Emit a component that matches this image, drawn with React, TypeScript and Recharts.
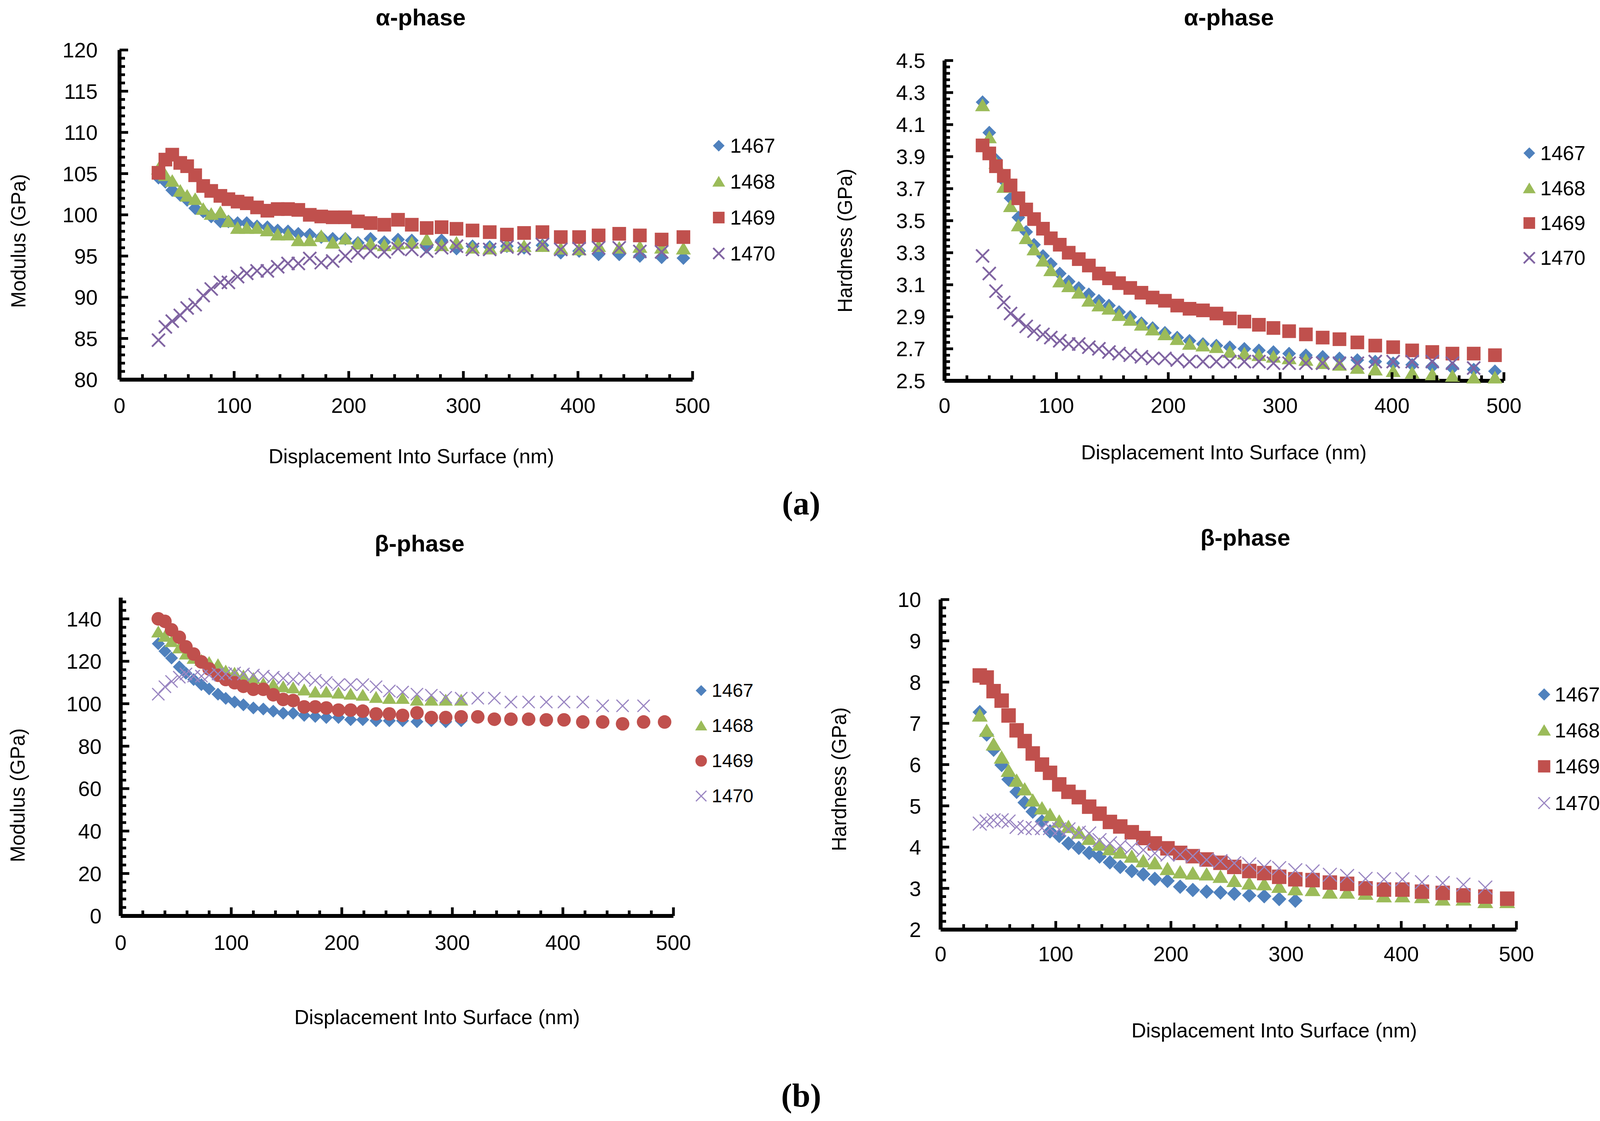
import React from "react";
import { ScatterChart, Scatter, XAxis, YAxis } from "recharts";

// indentation depth grid (nm) shared by all four panels
const depth = [34, 40, 46, 53, 59, 66, 73, 80, 88, 95, 103, 111, 120, 129, 138, 147, 156, 166, 176, 186, 197, 208, 219, 231, 243, 255, 268, 281, 294, 308, 323, 338, 353, 369, 385, 401, 418, 436, 454, 473, 492];

// α-phase modulus (GPa)
const alphaMod1467 = [104.5, 104.0, 103.0, 102.4, 101.8, 100.8, 100.4, 99.8, 99.2, 99.2, 99.0, 99.0, 98.6, 98.5, 98.1, 98.0, 97.7, 97.6, 97.3, 97.1, 97.1, 96.6, 97.1, 96.7, 97.0, 96.9, 96.1, 96.9, 95.9, 96.2, 96.1, 96.2, 96.0, 96.3, 95.4, 95.6, 95.2, 95.2, 95.0, 94.85, 94.75];
const alphaMod1468 = [105.6, 104.8, 104.1, 102.9, 102.3, 101.9, 100.7, 100.1, 100.3, 99.2, 98.4, 98.4, 98.4, 98.1, 97.6, 97.6, 96.9, 96.9, 97.4, 96.6, 97.1, 96.5, 96.5, 96.3, 96.5, 96.6, 97.0, 96.3, 96.6, 96.0, 95.9, 96.2, 96.2, 96.2, 95.9, 95.8, 96.2, 96.0, 96.1, 96.0, 95.9];
const alphaMod1469 = [105.1, 106.7, 107.3, 106.3, 105.9, 104.8, 103.5, 102.9, 102.3, 101.9, 101.6, 101.4, 100.9, 100.5, 100.7, 100.7, 100.6, 100.0, 99.8, 99.7, 99.7, 99.2, 99.0, 98.8, 99.4, 98.8, 98.4, 98.5, 98.3, 98.1, 97.9, 97.6, 97.8, 97.9, 97.3, 97.3, 97.5, 97.7, 97.5, 97.0, 97.3];
const alphaMod1470 = [84.8, 86.4, 87.1, 87.8, 88.7, 89.1, 90.2, 91.0, 91.8, 91.8, 92.5, 92.9, 93.2, 93.2, 93.7, 94.1, 94.1, 94.7, 94.2, 94.4, 95.0, 95.4, 95.6, 95.5, 95.9, 95.8, 95.6, 96.0, 96.2, 95.8, 95.8, 96.1, 95.9, 96.4, 95.8, 95.9, 96.0, 96.0, 95.55, 95.5];

// α-phase hardness (GPa)
const alphaHard1467 = [4.24, 4.05, 3.88, 3.75, 3.64, 3.52, 3.43, 3.35, 3.28, 3.23, 3.17, 3.12, 3.08, 3.04, 3.0, 2.97, 2.93, 2.9, 2.86, 2.83, 2.8, 2.77, 2.75, 2.73, 2.72, 2.71, 2.7, 2.69, 2.68, 2.67, 2.66, 2.65, 2.64, 2.63, 2.62, 2.61, 2.6, 2.59, 2.58, 2.57, 2.56];
const alphaHard1468 = [4.22, 4.02, 3.86, 3.71, 3.59, 3.47, 3.39, 3.32, 3.25, 3.19, 3.12, 3.09, 3.05, 3.0, 2.97, 2.95, 2.91, 2.88, 2.85, 2.82, 2.79, 2.76, 2.73, 2.72, 2.71, 2.68, 2.67, 2.66, 2.65, 2.64, 2.63, 2.61, 2.6, 2.58, 2.57, 2.56, 2.55, 2.54, 2.53, 2.52, 2.52];
const alphaHard1469 = [3.97, 3.92, 3.84, 3.78, 3.72, 3.64, 3.57, 3.51, 3.45, 3.39, 3.35, 3.3, 3.26, 3.22, 3.17, 3.14, 3.11, 3.08, 3.05, 3.02, 3.0, 2.97, 2.95, 2.94, 2.92, 2.89, 2.87, 2.85, 2.83, 2.81, 2.79, 2.77, 2.76, 2.74, 2.72, 2.71, 2.69, 2.68, 2.67, 2.67, 2.66];
const alphaHard1470 = [3.28, 3.17, 3.06, 2.99, 2.92, 2.88, 2.84, 2.81, 2.79, 2.77, 2.75, 2.73, 2.73, 2.71, 2.7, 2.68, 2.67, 2.66, 2.65, 2.64, 2.64, 2.63, 2.62, 2.62, 2.62, 2.62, 2.62, 2.62, 2.61, 2.61, 2.61, 2.61, 2.61, 2.61, 2.62, 2.62, 2.62, 2.62, 2.61, 2.58];

// β-phase modulus (GPa)
const betaMod1467 = [128.3, 124.8, 121.5, 117.4, 114.4, 111.4, 109.0, 107.0, 104.5, 102.5, 100.8, 99.5, 98.0, 97.5, 96.5, 95.5, 95.5, 94.5, 94.0, 93.5, 93.5, 92.5, 92.5, 92.0, 92.0, 92.0, 91.5, 92.0, 91.5, 92.0];
const betaMod1468 = [133.8, 131.8, 129.3, 126.3, 123.4, 121.4, 120.4, 119.4, 118.4, 115.4, 114.4, 113.1, 111.9, 109.4, 109.0, 108.0, 107.5, 106.5, 105.5, 105.5, 105.0, 104.5, 104.0, 103.0, 102.5, 102.5, 101.7, 101.7, 101.7, 101.7];
const betaMod1469 = [140.0, 138.8, 134.8, 131.3, 126.8, 123.4, 119.7, 116.4, 113.4, 111.4, 109.9, 108.2, 106.8, 106.8, 104.2, 102.0, 101.5, 98.5, 98.5, 98.0, 97.0, 97.0, 96.5, 95.2, 95.2, 94.5, 95.7, 93.5, 93.5, 93.8, 93.8, 92.7, 92.7, 92.7, 92.4, 92.4, 91.4, 91.4, 90.5, 91.4, 91.4];
const betaMod1470 = [104.5, 108, 110.5, 112.5, 114, 113, 113, 113.5, 114, 114, 114.5, 114, 113.5, 113, 112.5, 112, 111.5, 112, 111, 110, 109, 109, 109, 108, 106, 105.5, 104.5, 104, 103, 102.6, 102.6, 102.6, 100.8, 100.8, 100.8, 100.8, 100.8, 99, 99, 99];

// β-phase hardness (GPa)
const betaHard1467 = [7.27, 6.73, 6.36, 5.99, 5.64, 5.34, 5.08, 4.86, 4.62, 4.38, 4.27, 4.09, 3.98, 3.86, 3.77, 3.63, 3.52, 3.42, 3.34, 3.23, 3.18, 3.04, 2.96, 2.92, 2.9, 2.87, 2.83, 2.81, 2.74, 2.7];
const betaHard1468 = [7.19, 6.82, 6.49, 6.17, 5.85, 5.61, 5.4, 5.13, 4.94, 4.78, 4.62, 4.49, 4.35, 4.2, 4.06, 3.95, 3.87, 3.77, 3.66, 3.61, 3.47, 3.39, 3.36, 3.34, 3.28, 3.18, 3.12, 3.1, 3.04, 2.98, 2.96, 2.9, 2.9, 2.87, 2.81, 2.81, 2.79, 2.73, 2.73, 2.67, 2.67];
const betaHard1469 = [8.16, 8.11, 7.78, 7.55, 7.19, 6.83, 6.57, 6.27, 6.0, 5.8, 5.52, 5.34, 5.21, 4.98, 4.81, 4.61, 4.5, 4.36, 4.22, 4.09, 3.97, 3.86, 3.78, 3.7, 3.62, 3.52, 3.42, 3.37, 3.28, 3.22, 3.2, 3.14, 3.11, 3.0, 2.97, 2.97, 2.92, 2.89, 2.83, 2.8, 2.75];
const betaHard1470 = [4.57, 4.62, 4.65, 4.65, 4.62, 4.49, 4.46, 4.46, 4.46, 4.46, 4.43, 4.43, 4.35, 4.33, 4.17, 4.09, 4.03, 3.99, 3.93, 3.85, 3.82, 3.82, 3.78, 3.69, 3.66, 3.61, 3.58, 3.52, 3.49, 3.44, 3.41, 3.33, 3.3, 3.23, 3.22, 3.22, 3.15, 3.13, 3.09, 3.02];

// tick labels
const xMajor = [0, 100, 200, 300, 400, 500];
const alphaModMajor = [80, 85, 90, 95, 100, 105, 110, 115, 120];
const alphaHardMajor = [2.5, 2.7, 2.9, 3.1, 3.3, 3.5, 3.7, 3.9, 4.1, 4.3, 4.5];
const betaModMajor = [0, 20, 40, 60, 80, 100, 120, 140];
const betaHardMajor = [2, 3, 4, 5, 6, 7, 8, 9, 10];

const BLUE = "#4F81BD";
const GREEN = "#9BBB59";
const RED = "#C0504D";
const PURPLE = "#8064A2";
const FONT = '"Liberation Sans", Arial, sans-serif';

const ML = 260, MR = 130, MT = 40, MB = 130;

// major ticks plus unlabelled minor ticks in between
function withMinor(major: number[], per: number, extendTo?: number) {
  const step = (major[1] - major[0]) / per;
  const end = extendTo ?? major[major.length - 1];
  const out: number[] = [];
  for (let i = 0; major[0] + i * step <= end + 1e-9; i++) {
    out.push(Math.round((major[0] + i * step) * 1e6) / 1e6);
  }
  return out;
}
const isMajor = (v: number, major: number[]) => major.some((m) => Math.abs(m - v) < 1e-6);

const pts = (vals: number[]) => vals.map((v, i) => ({ x: depth[i], y: v }));

type Kind = "diamond" | "triangle" | "square" | "circle" | "x";

function Mark({ cx, cy, kind, color, size, stroke }: { cx: number; cy: number; kind: Kind; color: string; size: number; stroke: number }) {
  if (cx == null || cy == null) return null;
  const h = size / 2;
  if (kind === "diamond")
    return <polygon points={`${cx},${cy - h} ${cx + h},${cy} ${cx},${cy + h} ${cx - h},${cy}`} fill={color} />;
  if (kind === "triangle")
    return <polygon points={`${cx},${cy - h} ${cx + h * 1.1},${cy + h * 0.85} ${cx - h * 1.1},${cy + h * 0.85}`} fill={color} />;
  if (kind === "square") return <rect x={cx - h} y={cy - h} width={size} height={size} fill={color} />;
  if (kind === "circle") return <circle cx={cx} cy={cy} r={h * 1.05} fill={color} />;
  const c = h * 0.95;
  return (
    <g stroke={color} strokeWidth={stroke}>
      <line x1={cx - c} y1={cy - c} x2={cx + c} y2={cy + c} />
      <line x1={cx - c} y1={cy + c} x2={cx + c} y2={cy - c} />
    </g>
  );
}

type Series = { name: string; values: number[]; kind: Kind; color: string };

type Panel = {
  title: string; titleX: number; titleY: number;
  yLabel: string; yLabelX: number; yLabelY: number;
  xLabelX: number; xLabelY: number;
  left: number; right: number; top: number; bottom: number;
  yDomain: [number, number]; yMajor: number[]; yExt?: number; yDec: number;
  xOff: number; yGap: number;
  size: number; cross: number; crossColor: string;
  series: Series[];
  legend: { mx: number; tx: number; rows: number[]; font: number };
};

const alphaKinds: Kind[] = ["diamond", "triangle", "square", "x"];
const betaModKinds: Kind[] = ["diamond", "triangle", "circle", "x"];
const colors = [BLUE, GREEN, RED, PURPLE];
const names = ["1467", "1468", "1469", "1470"];
const mk = (vals: number[][], kinds: Kind[]): Series[] =>
  vals.map((v, i) => ({ name: names[i], values: v, kind: kinds[i], color: colors[i] }));

const panels: Panel[] = [
  {
    title: "α-phase", titleX: 1077, titleY: 45,
    yLabel: "Modulus (GPa)", yLabelX: 47, yLabelY: 617,
    xLabelX: 1053, xLabelY: 1168,
    left: 306, right: 1773, top: 128, bottom: 972,
    yDomain: [80, 120], yMajor: alphaModMajor, yDec: 0,
    xOff: 66, yGap: 56, size: 35, cross: 4.5, crossColor: PURPLE,
    series: mk([alphaMod1467, alphaMod1468, alphaMod1469, alphaMod1470], alphaKinds),
    legend: { mx: 1840, tx: 1869, rows: [373, 465, 557, 649], font: 52 },
  },
  {
    title: "α-phase", titleX: 3146, titleY: 45,
    yLabel: "Hardness (GPa)", yLabelX: 2163, yLabelY: 616,
    xLabelX: 3133, xLabelY: 1158,
    left: 2418, right: 3850, top: 155, bottom: 975,
    yDomain: [2.5, 4.5], yMajor: alphaHardMajor, yDec: 1,
    xOff: 63, yGap: 49, size: 35, cross: 4.5, crossColor: PURPLE,
    series: mk([alphaHard1467, alphaHard1468, alphaHard1469, alphaHard1470], alphaKinds),
    legend: { mx: 3915, tx: 3943, rows: [392, 482, 571, 660], font: 52 },
  },
  {
    title: "β-phase", titleX: 1074, titleY: 1392,
    yLabel: "Modulus (GPa)", yLabelX: 45, yLabelY: 2036,
    xLabelX: 1119, xLabelY: 2604,
    left: 309, right: 1724, top: 1530, bottom: 2345,
    yDomain: [0, 150], yMajor: betaModMajor, yExt: 148, yDec: 0,
    xOff: 68, yGap: 49, size: 33, cross: 3, crossColor: "#9A86C2",
    series: mk([betaMod1467, betaMod1468, betaMod1469, betaMod1470], betaModKinds),
    legend: { mx: 1795, tx: 1822, rows: [1768, 1858, 1948, 2038], font: 48 },
  },
  {
    title: "β-phase", titleX: 3188, titleY: 1377,
    yLabel: "Hardness (GPa)", yLabelX: 2148, yLabelY: 1995,
    xLabelX: 3262, xLabelY: 2638,
    left: 2408, right: 3882, top: 1535, bottom: 2380,
    yDomain: [2, 10], yMajor: betaHardMajor, yDec: 0,
    xOff: 62, yGap: 50, size: 37, cross: 3, crossColor: "#9A86C2",
    series: mk([betaHard1467, betaHard1468, betaHard1469, betaHard1470], alphaKinds),
    legend: { mx: 3953, tx: 3980, rows: [1778, 1870, 1962, 2056], font: 52 },
  },
];

const TICK_FONT = 54;

function XTick(props: any) {
  const { x, y, payload } = props;
  const v = payload.value;
  const major = isMajor(v, xMajor);
  return (
    <g>
      <line x1={x} y1={y} x2={x} y2={y - (major ? 22 : 14)} stroke="#000" strokeWidth={7} />
      {major && (
        <text x={x} y={y + props.off} dy="0.36em" textAnchor="middle" fontFamily={FONT} fontSize={TICK_FONT} fill="#000">
          {v}
        </text>
      )}
    </g>
  );
}

function YTick(props: any) {
  const { x, y, payload, majors, dec, gap } = props;
  const v = payload.value;
  const major = isMajor(v, majors);
  return (
    <g>
      <line x1={x} y1={y} x2={x + (major ? 22 : 14)} y2={y} stroke="#000" strokeWidth={7} />
      {major && (
        <text x={x - gap} y={y} dy="0.36em" textAnchor="end" fontFamily={FONT} fontSize={TICK_FONT} fill="#000">
          {v.toFixed(dec)}
        </text>
      )}
    </g>
  );
}

function LegendMark({ kind, color, size, stroke }: { kind: Kind; color: string; size: number; stroke: number }) {
  return (
    <svg width={44} height={44} style={{ display: "block" }}>
      <Mark cx={22} cy={22} kind={kind} color={color} size={size * 0.85} stroke={stroke} />
    </svg>
  );
}

function PanelView({ p }: { p: Panel }) {
  const w = p.right - p.left;
  const h = p.bottom - p.top;
  const xTicks = withMinor(xMajor, 5);
  const yTicks = withMinor(p.yMajor, 5, p.yExt);
  return (
    <>
      <div style={{ position: "absolute", left: p.left - ML, top: p.top - MT }}>
        <ScatterChart width={w + ML + MR} height={h + MT + MB} margin={{ top: MT, right: MR, bottom: 0, left: 0 }}>
          <XAxis
            type="number" dataKey="x" domain={[0, 500]} ticks={xTicks} interval={0}
            height={MB} tickSize={0} tickMargin={0} tickLine={false}
            axisLine={{ stroke: "#000", strokeWidth: 10 }}
            tick={(tp: any) => <XTick {...tp} off={p.xOff} />}
          />
          <YAxis
            type="number" dataKey="y" domain={p.yDomain} ticks={yTicks} interval={0}
            width={ML} tickSize={0} tickMargin={0} tickLine={false}
            axisLine={{ stroke: "#000", strokeWidth: 10 }}
            tick={(tp: any) => <YTick {...tp} majors={p.yMajor} dec={p.yDec} gap={p.yGap} />}
          />
          {p.series.map((s) => (
            <Scatter
              key={s.name}
              name={s.name}
              data={pts(s.values)}
              isAnimationActive={false}
              shape={(sp: any) => (
                <Mark cx={sp.cx} cy={sp.cy} kind={s.kind} color={s.kind === "x" ? p.crossColor : s.color} size={p.size} stroke={p.cross} />
              )}
            />
          ))}
        </ScatterChart>
      </div>
      <div style={{ position: "absolute", left: p.titleX, top: p.titleY, transform: "translate(-50%,-50%)", fontFamily: FONT, fontWeight: 700, fontSize: 60, whiteSpace: "nowrap", lineHeight: 1 }}>
        {p.title}
      </div>
      <div style={{ position: "absolute", left: p.yLabelX, top: p.yLabelY, transform: "translate(-50%,-50%) rotate(-90deg)", fontFamily: FONT, fontSize: 51, whiteSpace: "nowrap", lineHeight: 1 }}>
        {p.yLabel}
      </div>
      <div style={{ position: "absolute", left: p.xLabelX, top: p.xLabelY, transform: "translate(-50%,-50%)", fontFamily: FONT, fontSize: 52, whiteSpace: "nowrap", lineHeight: 1 }}>
        Displacement Into Surface (nm)
      </div>
      {p.series.map((s, i) => (
        <React.Fragment key={s.name}>
          <div style={{ position: "absolute", left: p.legend.mx - 22, top: p.legend.rows[i] - 22 }}>
            <LegendMark kind={s.kind} color={s.kind === "x" ? p.crossColor : s.color} size={p.size} stroke={p.cross} />
          </div>
          <div style={{ position: "absolute", left: p.legend.tx, top: p.legend.rows[i], transform: "translateY(-50%)", fontFamily: FONT, fontSize: p.legend.font, lineHeight: 1, whiteSpace: "nowrap" }}>
            {s.name}
          </div>
        </React.Fragment>
      ))}
    </>
  );
}

export default function App() {
  return (
    <div style={{ position: "absolute", left: 0, top: 0, width: 4097, height: 2870, background: "#fff", overflow: "hidden" }}>
      {panels.map((p, i) => (
        <PanelView key={i} p={p} />
      ))}
      <div style={{ position: "absolute", left: 2051, top: 1289, transform: "translate(-50%,-50%)", fontFamily: '"Liberation Serif", "Times New Roman", serif', fontWeight: 700, fontSize: 84, lineHeight: 1 }}>
        (a)
      </div>
      <div style={{ position: "absolute", left: 2051, top: 2805, transform: "translate(-50%,-50%)", fontFamily: '"Liberation Serif", "Times New Roman", serif', fontWeight: 700, fontSize: 84, lineHeight: 1 }}>
        (b)
      </div>
    </div>
  );
}
